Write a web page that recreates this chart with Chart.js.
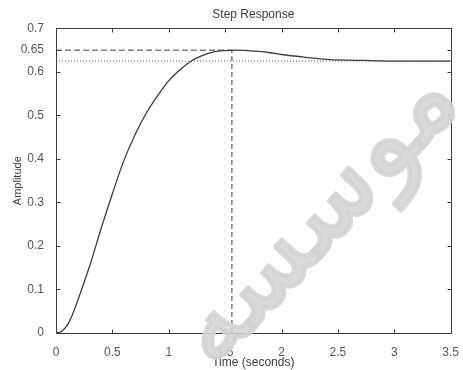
<!DOCTYPE html>
<html>
<head>
<meta charset="utf-8">
<script src="https://cdn.jsdelivr.net/npm/chart.js@4.4.1/dist/chart.umd.min.js"></script>
<style>
  html, body { margin: 0; padding: 0; background: #fff; }
  #wrap { width: 463px; height: 370px; }
</style>
</head>
<body>
<div id="wrap"><canvas id="stepChart" width="463" height="370"></canvas></div>
<script>
// step response
const timeS = [0, 0.05, 0.1, 0.15, 0.2, 0.3, 0.4, 0.5, 0.6, 0.7, 0.8, 0.9, 1.0, 1.1, 1.2, 1.3, 1.4,
    1.5, 1.6, 1.7, 1.8, 1.9, 2.0, 2.2, 2.4, 2.6, 2.8, 3.0, 3.2, 3.5];
const amplitude = [0, 0.004, 0.018, 0.045, 0.08, 0.155, 0.24, 0.32, 0.395, 0.455, 0.505, 0.545,
    0.58, 0.605, 0.625, 0.638, 0.646, 0.649, 0.65, 0.649, 0.647, 0.644, 0.64, 0.634, 0.629,
    0.627, 0.626, 0.625, 0.625, 0.625];

// peak / steady-state markers
const peakTime = 1.56;
const peakAmp = 0.65;
const finalAmp = 0.625;

const xTicks = [0, 0.5, 1, 1.5, 2, 2.5, 3, 3.5];
const yTicks = [0, 0.1, 0.2, 0.3, 0.4, 0.5, 0.6, 0.65, 0.7];

const INK = '#3c3c3c';
const FONT = { family: 'Liberation Sans, Arial, sans-serif', size: 12, weight: 'normal' };

// box around the plot with inward tick marks (matlab style)
const frame = {
    id: 'frame',
    afterDatasetsDraw(chart) {
        const { ctx, chartArea: a, scales: { x, y } } = chart;
        const L = Math.round(a.left) + 0.5, R = Math.round(a.right) + 0.5;
        const T = Math.round(a.top) + 0.5, B = Math.round(a.bottom) + 0.5;
        ctx.save();
        ctx.strokeStyle = INK;
        ctx.lineWidth = 1;
        ctx.strokeRect(L, T, R - L, B - T);
        ctx.beginPath();
        x.ticks.forEach(t => {
            const px = Math.round(x.getPixelForValue(t.value)) + 0.5;
            ctx.moveTo(px, B); ctx.lineTo(px, B - 4);
            ctx.moveTo(px, T); ctx.lineTo(px, T + 4);
        });
        y.ticks.forEach(t => {
            const py = Math.round(y.getPixelForValue(t.value)) + 0.5;
            ctx.moveTo(L, py); ctx.lineTo(L + 4, py);
            ctx.moveTo(R, py); ctx.lineTo(R - 4, py);
        });
        ctx.stroke();
        ctx.restore();
    }
};

// the grey watermark lying across the picture
const watermark = {
    id: 'watermark',
    afterDraw(chart) {
        const { ctx } = chart;
        ctx.save();
        ctx.translate(318, 218);
        ctx.rotate(-47 * Math.PI / 180);
        ctx.font = '100px "DejaVu Sans"';
        const w = ctx.measureText('موسسه').width;
        const k = 365 / w;
        ctx.scale(k, k);
        ctx.fillStyle = 'rgba(210, 210, 210, 0.85)';
        ctx.strokeStyle = 'rgba(210, 210, 210, 0.85)';
        ctx.lineWidth = 4;
        ctx.lineJoin = 'round';
        ctx.textAlign = 'center';
        ctx.textBaseline = 'middle';
        ctx.direction = 'rtl';
        ctx.strokeText('موسسه', 0, 0);
        ctx.fillText('موسسه', 0, 0);
        ctx.restore();
    }
};

const toPoints = (xs, ys) => xs.map((v, i) => ({ x: v, y: ys[i] }));

new Chart(document.getElementById('stepChart'), {
    type: 'scatter',
    data: {
        datasets: [
            {
                label: 'response',
                data: toPoints(timeS, amplitude),
                showLine: true,
                borderColor: INK,
                borderWidth: 1.3,
                pointRadius: 0,
                cubicInterpolationMode: 'monotone',
            },
            {
                label: 'peak level',
                data: toPoints([0, peakTime], [peakAmp, peakAmp]),
                showLine: true,
                borderColor: INK,
                borderWidth: 1,
                borderDash: [6, 3],
                pointRadius: 0,
            },
            {
                label: 'peak time',
                data: toPoints([peakTime, peakTime], [0, peakAmp]),
                showLine: true,
                borderColor: INK,
                borderWidth: 1,
                borderDash: [5, 3],
                pointRadius: 0,
            },
            {
                label: 'final value',
                data: toPoints([0, xTicks[xTicks.length - 1]], [finalAmp, finalAmp]),
                showLine: true,
                borderColor: '#666',
                borderWidth: 1,
                borderDash: [1, 2],
                pointRadius: 0,
            },
        ],
    },
    options: {
        responsive: false,
        animation: false,
        events: [],
        layout: { padding: { left: 0, right: 10, top: 0, bottom: 0 } },
        plugins: {
            legend: { display: false },
            tooltip: { enabled: false },
            title: {
                display: true,
                text: 'Step Response',
                color: INK,
                font: FONT,
                fullSize: false,
                padding: { top: 7, bottom: 7 },
            },
        },
        scales: {
            x: {
                type: 'linear',
                min: 0,
                max: 3.5,
                afterBuildTicks: s => { s.ticks = xTicks.map(v => ({ value: v })); },
                afterFit: s => { s.height = 37; },
                grid: { display: false },
                border: { display: false },
                ticks: {
                    color: '#555',
                    font: FONT,
                    padding: 4,
                    maxRotation: 0,
                    autoSkip: false,
                    callback: v => String(v),
                },
                title: {
                    display: true,
                    text: 'Time (seconds)',
                    color: INK,
                    font: FONT,
                    padding: { top: 2, bottom: 0 },
                },
            },
            y: {
                type: 'linear',
                min: 0,
                max: 0.7,
                afterBuildTicks: s => { s.ticks = yTicks.map(v => ({ value: v })); },
                afterFit: s => { s.width = 56; },
                grid: { display: false },
                border: { display: false },
                ticks: {
                    color: '#555',
                    font: FONT,
                    padding: 4,
                    autoSkip: false,
                    callback: v => String(v),
                },
                title: {
                    display: true,
                    text: 'Amplitude',
                    color: INK,
                    font: { family: FONT.family, size: 11 },
                    padding: { top: 11, bottom: 0 },
                },
            },
        },
    },
    plugins: [frame, watermark],
});
</script>
</body>
</html>
